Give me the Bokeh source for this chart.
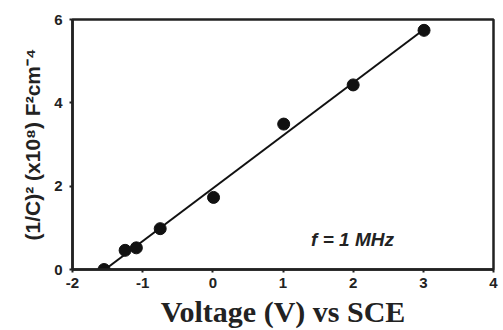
import numpy as np
from bokeh.plotting import figure
from bokeh.models import Label, Range1d, FixedTicker
from bokeh.embed import file_html
from bokeh.resources import INLINE

# Mott-Schottky data: applied voltage vs (1/C)^2 in units of 1e8 F^-2 cm^4
voltage = [-1.55, -1.25, -1.09, -0.75, 0.01, 1.01, 2.00, 3.01]
inv_c2 = [0.0, 0.46, 0.52, 0.98, 1.73, 3.49, 4.43, 5.74]

# right end of the drawn fit line (it starts where the fit meets the axis)
fit_end = 3.05

x_ticks = [-2, -1, 0, 1, 2, 3, 4]
y_ticks = [0, 2, 4, 6]

slope, intercept = np.polyfit(voltage, inv_c2, 1)
fit_x = np.array([-intercept / slope, fit_end])
fit_y = slope * fit_x + intercept

p = figure(width=503, height=330, output_backend="svg", toolbar_location=None,
           x_range=Range1d(-2, 4), y_range=Range1d(0, 6),
           min_border_left=72, min_border_right=10, min_border_top=19,
           min_border_bottom=61)

p.line(fit_x, fit_y, line_color="#111111", line_width=2)
p.scatter(voltage, inv_c2, size=12, fill_color="#111111", line_color="#111111")

p.grid.visible = False
p.background_fill_color = "white"
p.border_fill_color = "white"
p.outline_line_color = "#222222"
p.outline_line_width = 2.5

for ax in (p.xaxis, p.yaxis):
    ax.axis_line_color = "#222222"
    ax.axis_line_width = 2.5
    ax.major_tick_line_color = "#222222"
    ax.major_tick_line_width = 2
    ax.major_tick_out = 3
    ax.major_tick_in = 0
    ax.minor_tick_line_color = None
    ax.major_label_text_font = "Liberation Sans"
    ax.major_label_text_font_style = "bold"
    ax.major_label_text_font_size = "15px"
    ax.major_label_text_color = "#222222"

p.xaxis.ticker = FixedTicker(ticks=x_ticks)
p.yaxis.ticker = FixedTicker(ticks=y_ticks)
p.xaxis.major_label_overrides = {t: str(t) for t in x_ticks}
p.yaxis.major_label_overrides = {t: str(t) for t in y_ticks}
p.xaxis.major_label_standoff = 5
p.yaxis.major_label_standoff = 7

p.xaxis.axis_label = "Voltage (V) vs SCE"
p.xaxis.axis_label_text_font = "Liberation Serif"
p.xaxis.axis_label_text_font_style = "bold"
p.xaxis.axis_label_text_font_size = "30px"
p.xaxis.axis_label_text_color = "#222222"
p.xaxis.axis_label_standoff = 4

p.yaxis.axis_label = "(1/C)\u00b2 (x10\u2078) F\u00b2cm\u207b\u2074"
p.yaxis.axis_label_text_font = "Liberation Sans"
p.yaxis.axis_label_text_font_style = "bold"
p.yaxis.axis_label_text_font_size = "21px"
p.yaxis.axis_label_text_color = "#222222"
p.yaxis.axis_label_standoff = 7

p.add_layout(Label(x=1.4, y=0.72, text="f = 1 MHz", text_font="Liberation Sans",
                   text_font_style="bold italic", text_font_size="19px",
                   text_color="#222222", text_baseline="middle"))

open("out.html", "w").write(file_html(p, INLINE))
